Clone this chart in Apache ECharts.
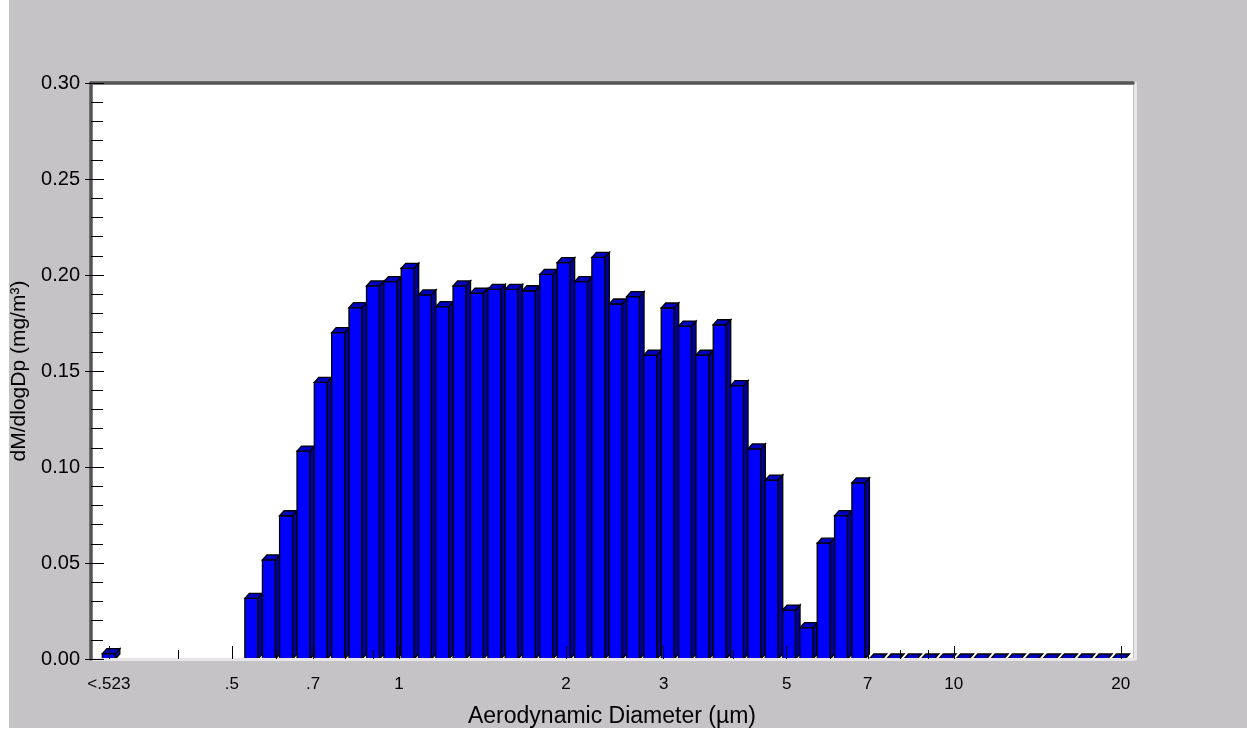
<!DOCTYPE html>
<html>
<head>
<meta charset="utf-8">
<script src="https://cdn.jsdelivr.net/npm/echarts@6/dist/echarts.min.js"></script>
<style>
  html, body { margin: 0; padding: 0; background: #ffffff; }
  #panel { position: absolute; left: 9px; top: 0; width: 1238px; height: 728px; background: #c6c3c6; }
  #chart { position: absolute; left: 0; top: 0; width: 1247px; height: 733px; }
</style>
</head>
<body>
<div id="panel"></div>
<div id="chart"></div>
<script>
// Channel positions on the diameter axis (µm); the first entry is where the "<.523" bin is drawn
const diameters = [
  0.3,
  0.542, 0.583, 0.626, 0.673, 0.723, 0.777, 0.835, 0.898, 0.965, 1.037,
  1.114, 1.197, 1.286, 1.382, 1.486, 1.596, 1.715, 1.843, 1.981, 2.129,
  2.288, 2.458, 2.642, 2.839, 3.051, 3.278, 3.523, 3.786, 4.068, 4.371,
  4.698, 5.048, 5.425, 5.829, 6.264, 6.732, 7.234, 7.774, 8.354, 8.977,
  9.647, 10.37, 11.14, 11.97, 12.86, 13.82, 14.86, 15.96, 17.15, 18.43,
  19.81
];

// dM/dlogDp per channel (mg/m³)
const massDistribution = [
  0.0028,
  0.0316, 0.0516, 0.0746, 0.1083, 0.1441, 0.1700, 0.1830, 0.1943, 0.1965, 0.2035,
  0.1896, 0.1835, 0.1943, 0.1905, 0.1925, 0.1925, 0.1918, 0.2003, 0.2064, 0.1965,
  0.2092, 0.1849, 0.1887, 0.1583, 0.1828, 0.1734, 0.1582, 0.1741, 0.1424, 0.1094,
  0.0932, 0.0255, 0.0163, 0.0603, 0.0747, 0.0917, 0, 0, 0, 0,
  0, 0, 0, 0, 0, 0, 0, 0, 0, 0,
  0
];

// Labelled ticks on the diameter axis and their texts
const xTickValues = [0.3, 0.5, 0.7, 1, 2, 3, 5, 7, 10, 20];
const xTickLabels = ['<.523', '.5', '.7', '1', '2', '3', '5', '7', '10', '20'];
// Short unlabelled ticks
const xMinorTickValues = [0.4, 0.6, 0.8, 0.9, 4, 6, 8, 9];

const xMin = 0.2786;
const xMax = 21.04;

const FONT = '"Liberation Sans", Arial, sans-serif';

function xLabel(value) {
  for (let i = 0; i < xTickValues.length; i++) {
    if (Math.abs(xTickValues[i] - value) < 1e-6 * Math.max(1, value)) return xTickLabels[i];
  }
  return '';
}

// Pseudo-3D box: front face, right side and top face
function renderBox(params, api) {
  const d = api.value(0);
  const v = api.value(1);
  const base = api.coord([d, 0]);
  const top = api.coord([d, v]);
  const half = 6.5, dx = 4.5, dy = 5;
  const x0 = base[0] - half, x1 = base[0] + half;
  const yb = base[1], yt = top[1];
  const edge = { stroke: '#000000', lineWidth: 1.3, lineJoin: 'miter' };
  const children = [];
  if (yb - yt > 0.3) {
    children.push({
      type: 'rect',
      shape: { x: x0, y: yt, width: x1 - x0, height: yb - yt },
      style: Object.assign({ fill: '#0000ff' }, edge)
    });
    children.push({
      type: 'polygon',
      shape: { points: [[x1, yt], [x1 + dx, yt - dy], [x1 + dx, yb - dy], [x1, yb]] },
      style: Object.assign({ fill: '#00009c' }, edge)
    });
  }
  children.push({
    type: 'polygon',
    shape: { points: [[x0, yt], [x0 + dx, yt - dy], [x1 + dx, yt - dy], [x1, yt]] },
    style: Object.assign({ fill: '#0000c0' }, edge)
  });
  return { type: 'group', children: children };
}

const seriesData = diameters.map((d, i) => [d, massDistribution[i]]);

const chart = echarts.init(document.getElementById('chart'), null, { renderer: 'canvas' });

chart.setOption({
  backgroundColor: 'transparent',
  animation: false,
  grid: {
    left: 91, top: 83, width: 1042, height: 576,
    show: true, backgroundColor: '#ffffff', borderWidth: 0
  },
  xAxis: [
    {
      type: 'log', logBase: 10, min: xMin, max: xMax, position: 'bottom', z: 10,
      axisLine: { show: false },
      splitLine: { show: false },
      axisTick: { show: true, inside: true, length: 13, customValues: xTickValues,
                  lineStyle: { color: '#000000', width: 1 } },
      axisLabel: { show: true, customValues: xTickValues, formatter: xLabel,
                   fontSize: 17, fontFamily: FONT, color: '#000000', margin: 17 },
      name: 'Aerodynamic Diameter (µm)',
      nameLocation: 'middle', nameGap: 46,
      nameTextStyle: { fontSize: 23, fontFamily: FONT, color: '#000000' }
    },
    {
      type: 'log', logBase: 10, min: xMin, max: xMax, position: 'bottom', z: 10,
      axisLine: { show: false },
      splitLine: { show: false },
      axisTick: { show: true, inside: true, length: 9, customValues: xMinorTickValues,
                  lineStyle: { color: '#000000', width: 1 } },
      axisLabel: { show: false }
    },
    {
      type: 'log', logBase: 10, min: xMin, max: xMax, position: 'bottom', offset: 2, z: 9,
      axisLine: { show: true, lineStyle: { color: '#e8e6e8', width: 3 } },
      axisTick: { show: false }, axisLabel: { show: false }, splitLine: { show: false }
    },
    {
      type: 'log', logBase: 10, min: xMin, max: xMax, position: 'top', z: 10,
      axisLine: { show: true, lineStyle: { color: '#555555', width: 3.5 } },
      axisTick: { show: false }, axisLabel: { show: false }, splitLine: { show: false }
    }
  ],
  yAxis: [
    {
      type: 'value', min: 0, max: 0.3, interval: 0.05, position: 'left', z: 10,
      axisLine: { show: true, lineStyle: { color: '#555555', width: 3.5 } },
      axisTick: { show: true, inside: true, length: 13, lineStyle: { color: '#000000', width: 1 } },
      minorTick: { show: true, splitNumber: 5, length: 12, lineStyle: { color: '#000000', width: 1 } },
      splitLine: { show: false },
      axisLabel: { formatter: v => v.toFixed(2), fontSize: 20, fontFamily: FONT,
                   color: '#000000', margin: 11 },
      name: 'dM/dlogDp (mg/m³)',
      nameLocation: 'middle', nameGap: 57, nameRotate: 90,
      nameTextStyle: { fontSize: 21, fontFamily: FONT, color: '#000000' }
    },
    {
      type: 'value', min: 0, max: 0.3, interval: 0.05, position: 'left', z: 10,
      axisLine: { show: false },
      axisTick: { show: true, inside: false, length: 6, lineStyle: { color: '#000000', width: 1 } },
      axisLabel: { show: false }, splitLine: { show: false }
    },
    {
      type: 'value', min: 0, max: 0.3, interval: 0.05, position: 'right', offset: 2, z: 9,
      axisLine: { show: true, lineStyle: { color: '#e8e6e8', width: 3 } },
      axisTick: { show: false }, axisLabel: { show: false }, splitLine: { show: false }
    }
  ],
  series: [
    {
      type: 'custom',
      xAxisIndex: 0, yAxisIndex: 0,
      renderItem: renderBox,
      encode: { x: 0, y: 1 },
      data: seriesData,
      z: 2
    }
  ]
});
</script>
</body>
</html>
